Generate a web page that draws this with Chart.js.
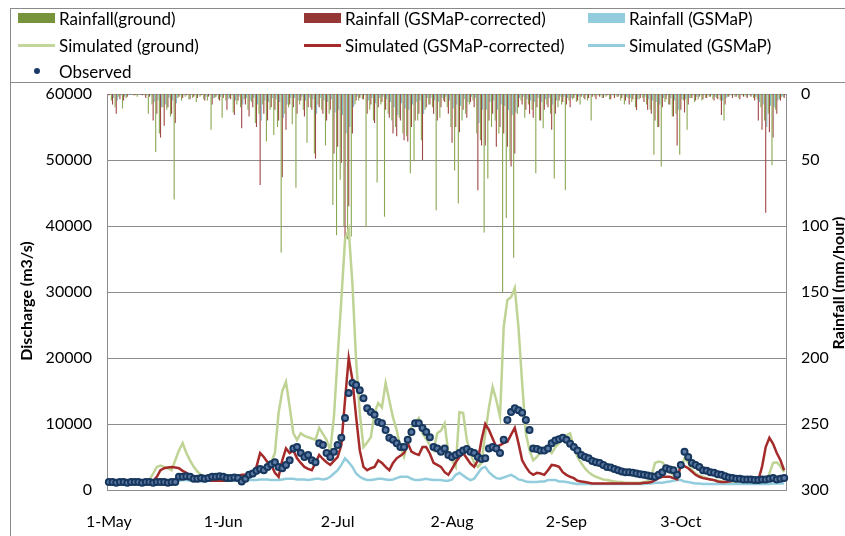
<!DOCTYPE html>
<html>
<head>
<meta charset="utf-8">
<script src="https://cdn.jsdelivr.net/npm/chart.js@4.4.1/dist/chart.umd.min.js"></script>
<style>
  html, body { margin: 0; padding: 0; background: #fff; }
  #wrap { position: relative; width: 845px; height: 536px; overflow: hidden; font-family: Lato, sans-serif; }
  #frame { position: absolute; left: 10px; top: 8px; width: 900px; height: 600px; border-left: 1px solid #8a8a8a; border-top: 1px solid #8a8a8a; }
  #legend { position: absolute; left: 10px; top: 8px; width: 900px; height: 74px; border-bottom: 1px solid #8a8a8a; }
  .item { position: absolute; display: flex; align-items: center; font-size: 17px; color: #000; white-space: nowrap; height: 20px; }
  .box { width: 37px; height: 10px; margin-right: 4px; }
  .ln { width: 37px; height: 3px; margin-right: 4px; }
  .dot { width: 37px; margin-right: 4px; display: flex; justify-content: center; }
  .dot span { width: 6px; height: 6px; border-radius: 50%; background: #1b3a66; }
  canvas { position: absolute; left: 0; top: 0; }
</style>
</head>
<body>
<div id="wrap">
  <canvas id="chart" width="845" height="536"></canvas>
  <div id="frame"></div>
  <div id="legend"></div>
  <div class="item" style="left:18px;top:8px"><div class="box" style="background:#77933c"></div>Rainfall(ground)</div>
  <div class="item" style="left:304px;top:8px"><div class="box" style="background:#953735"></div>Rainfall (GSMaP-corrected)</div>
  <div class="item" style="left:588px;top:8px"><div class="box" style="background:#93cddd"></div>Rainfall (GSMaP)</div>
  <div class="item" style="left:18px;top:35px"><div class="ln" style="background:#c3d69b"></div>Simulated (ground)</div>
  <div class="item" style="left:304px;top:35px"><div class="ln" style="background:#a52a2a"></div>Simulated (GSMaP-corrected)</div>
  <div class="item" style="left:588px;top:35px"><div class="ln" style="background:#93cddd"></div>Simulated (GSMaP)</div>
  <div class="item" style="left:18px;top:61px"><div class="dot"><span></span></div>Observed</div>
</div>
<script>
const tickLabels = ['1-May', '1-Jun', '2-Jul', '2-Aug', '2-Sep', '3-Oct'];
const monthNames = ['Jan', 'Feb', 'Mar', 'Apr', 'May', 'Jun', 'Jul', 'Aug', 'Sep', 'Oct', 'Nov', 'Dec'];

// discharge (m3/s), one value per day from 1 May
const observed = [
  1200,1200,1100,1200,1200,1100,1200,1200,1200,1100,
  1200,1200,1100,1200,1200,1200,1100,1200,1200,2000,
  2000,2100,2000,1700,1700,1800,1700,1800,2000,2000,
  2100,2000,1800,1800,1900,1800,1300,1700,2300,2500,
  2900,3200,3000,3500,3900,4200,3500,3300,3800,4500,
  6300,6500,5600,5000,5300,4500,4200,7100,6800,5600,
  5000,5800,6800,7900,10900,14700,16200,15900,15100,13900,
  12400,11800,11400,10300,10100,9100,7900,7600,7100,6500,
  6500,7600,8800,10100,10100,9400,8800,8000,6500,6300,
  5800,6300,5300,5000,5300,5600,6000,6200,5800,5600,
  5000,4700,4800,6300,6500,6300,5600,7600,10600,11800,
  12400,12100,11700,10600,9100,6300,6200,6000,6000,6300,
  7100,7500,7700,7900,7600,7000,6500,6000,5300,5000,
  4800,4400,4200,4100,3800,3500,3400,3200,3000,2800,
  2700,2700,2600,2500,2400,2300,2200,2100,2000,2300,
  2700,3300,3100,3000,2300,3800,5800,5000,4100,3800,
  3500,3000,2900,2700,2600,2400,2300,2100,1900,1800,
  1700,1700,1600,1600,1600,1500,1500,1600,1600,1700,
  1800,1600,1700,1800
];
const simGround = [
  900,1000,1000,1000,1000,1000,1000,1100,1100,1200,
  1300,1500,2500,3500,3700,3500,3300,3000,4500,6000,
  7100,5600,4500,3500,2800,2300,2100,2000,2100,2200,
  2300,2200,2000,1900,1800,1800,2000,2300,2600,2800,
  3000,3200,3400,3500,4200,5600,11700,15000,16400,12600,
  8600,7600,8600,8200,8000,7800,7600,9400,8500,7600,
  6000,11100,20200,28800,37900,39500,31300,19700,11700,6500,
  7200,8000,11700,13200,12500,16200,13600,11000,9100,6500,
  5000,7100,9500,10200,10900,8600,7700,6800,6000,8600,
  9000,10100,5600,4500,3500,11800,11700,7600,5500,4100,
  3500,4100,8600,12500,15600,13600,11100,24700,28800,29200,
  30600,24700,16200,8600,6000,4500,5000,5800,6000,6300,
  5600,6500,7100,7800,8300,8600,6500,5000,4100,3300,
  2700,2300,2000,1800,1600,1500,1400,1300,1200,1200,
  1100,1100,1100,1100,1100,1200,1300,2000,4100,4300,
  4200,3400,2700,2300,2000,3500,4800,4200,3000,2500,
  2200,2000,1800,1600,1500,1400,1300,1200,1200,1200,
  1200,1200,1100,1100,1100,1100,1100,1200,1300,2500,
  4100,4200,3600,2700
];
const simCorrected = [
  900,1000,1200,1300,1300,1300,1300,1300,1300,1300,
  1300,1300,1400,2000,3000,3300,3400,3500,3400,3300,
  2900,2600,2200,1800,1700,1600,1500,1500,1400,1400,
  1400,1400,1400,1600,1800,2100,2300,2300,2600,2600,
  3500,5600,5000,4200,3800,2600,2000,4500,6300,5600,
  6000,4800,4100,3500,3200,3000,4100,5300,4700,4200,
  3800,4400,5000,6800,13600,20000,16700,11100,6000,3500,
  3000,3300,3500,4500,4100,3500,3000,4100,4800,5200,
  5600,7100,5800,5500,5300,6500,6500,5500,4100,3800,
  3500,2700,2300,3200,4200,5000,5600,4800,4000,3500,
  4500,7600,10000,9100,7800,6500,6800,7100,7300,8400,
  9400,7100,4500,3500,2700,2300,2600,2500,2300,3000,
  3800,3700,3500,2700,2300,2000,1800,1400,1300,1200,
  1100,1000,1000,1000,1000,1000,1000,1000,1000,1000,
  1000,1000,1000,1000,1000,1100,1100,1200,1500,1800,
  2000,2000,2000,1800,1600,3800,3600,3300,2800,2300,
  2000,1800,1700,1600,1500,1300,1200,1200,1300,1400,
  1500,1500,1500,1500,1500,1500,1500,3500,6500,7900,
  7000,5600,4500,3000
];
const simGsmap = [
  800,800,900,900,900,1000,1000,1000,1000,1100,
  1100,1200,1200,1300,1300,1300,1400,1400,1400,1400,
  1500,1500,1400,1400,1400,1300,1300,1400,1400,1400,
  1400,1400,1400,1400,1400,1400,1400,1500,1500,1500,
  1500,1600,1600,1600,1500,1500,1500,1600,1700,1700,
  1700,1600,1600,1600,1500,1600,1700,1700,1600,1700,
  2000,2500,3000,3800,4800,4200,3500,2500,2000,1700,
  1500,1500,1600,1700,1700,1600,1500,1600,1800,2000,
  2000,2000,1700,1500,1500,1600,1700,1600,1500,1500,
  1500,1400,1400,1600,2300,2600,2200,1800,1500,1700,
  2500,3300,3500,2700,2200,1800,1700,1900,2100,2300,
  2000,1600,1500,1300,1200,1200,1200,1300,1300,1500,
  1500,1500,1300,1300,1200,1100,1000,900,900,900,
  900,900,900,900,900,900,900,900,900,900,
  900,900,900,900,900,900,1000,1000,1100,1100,
  1100,1200,1300,1400,1500,1500,1300,1200,1100,1000,
  1000,900,900,900,900,900,900,900,900,900,
  900,900,900,900,900,900,900,900,900,900,
  1000,1000,1000,1000
];

// rainfall (mm/hour)
const rainGround = [
  0,5,10,2,11,3,0,1,2,0,
  1,15,8,44,30,10,12,17,80,3,
  5,2,4,3,6,2,4,5,27,3,
  4,18,5,3,14,8,10,4,12,6,
  22,15,8,36,12,31,25,120,15,10,
  23,71,8,12,37,10,45,8,12,39,
  15,84,107,65,100,110,108,8,5,4,
  101,12,20,67,8,93,15,20,25,18,
  30,32,60,51,20,35,12,8,10,88,
  18,5,10,25,58,83,20,15,8,5,
  30,35,105,64,25,20,30,150,94,50,
  124,15,5,18,8,12,60,20,26,8,
  15,64,10,8,73,5,4,6,8,3,
  5,20,2,1,3,2,4,1,2,5,
  8,3,6,10,4,3,8,12,46,25,
  55,6,8,17,15,46,5,27,3,6,
  4,5,3,2,4,3,5,20,2,1,
  2,3,1,2,1,3,4,10,20,15,
  54,12,4,2
];
const rainCorrected = [
  1,8,15,4,5,2,0,1,0,1,
  3,2,20,15,33,24,10,15,22,2,
  3,1,4,2,3,1,5,2,8,2,
  5,3,12,4,16,5,26,8,17,10,
  25,69,15,20,10,12,20,63,27,8,
  10,15,5,17,10,12,49,10,15,20,
  12,45,40,52,110,85,30,5,3,4,
  15,8,22,10,6,12,18,30,32,20,
  35,36,25,20,15,50,10,8,15,20,
  10,6,15,37,25,29,12,18,6,10,
  73,39,39,20,15,40,25,30,40,55,
  45,10,8,12,15,18,10,20,12,10,
  27,15,5,6,8,10,3,5,2,4,
  3,2,4,2,3,1,4,3,2,3,
  5,8,4,12,3,6,12,15,20,25,
  10,4,8,17,39,12,14,8,3,5,
  2,4,3,2,5,4,16,8,2,3,
  2,4,2,3,2,5,20,27,90,29,
  33,15,5,3
];
const rainGsmap = [
  0,3,5,1,2,1,0,0,0,0,
  1,1,6,5,10,8,3,5,7,1,
  1,0,1,1,1,0,2,1,3,1,
  2,1,4,1,5,2,8,3,5,3,
  8,20,5,6,3,4,6,18,8,3,
  3,5,2,5,3,4,15,3,5,6,
  4,14,12,16,30,25,10,2,1,1,
  5,3,7,3,2,4,6,10,16,7,
  11,12,8,6,5,15,3,3,5,6,
  3,2,5,11,8,9,4,6,2,3,
  22,12,12,6,5,12,8,9,12,16,
  14,3,2,4,5,6,3,6,4,3,
  8,5,2,2,3,3,1,2,1,1,
  1,1,1,1,1,0,1,1,1,1,
  2,3,1,4,1,2,4,5,6,8,
  3,1,3,5,12,4,4,3,1,2,
  1,1,1,1,2,1,5,3,1,1,
  1,1,1,1,1,2,6,8,25,9,
  10,5,2,1
];

const dayLabels = [];
for (let i = 0; i < observed.length; i++) {
  const d = new Date(2000, 4, 1 + i);
  dayLabels.push(d.getDate() + '-' + monthNames[d.getMonth()]);
}

const tickFont = { family: 'Lato', size: 16 };

const axisTitles = {
  id: 'axisTitles',
  afterDraw(chart) {
    const c = chart.ctx;
    c.save();
    c.font = 'bold 16px Lato';
    c.fillStyle = '#000';
    c.textAlign = 'center';
    c.textBaseline = 'middle';
    c.translate(27, 301);
    c.rotate(-Math.PI / 2);
    c.fillText('Discharge (m3/s)', 0, 0);
    c.restore();
    c.save();
    c.font = 'bold 16px Lato';
    c.fillStyle = '#000';
    c.textAlign = 'center';
    c.textBaseline = 'middle';
    c.translate(839, 283);
    c.rotate(-Math.PI / 2);
    c.fillText('Rainfall (mm/hour)', 0, 0);
    c.restore();
  }
};

new Chart(document.getElementById('chart').getContext('2d'), {
  data: {
    labels: dayLabels,
    datasets: [
      { type: 'line', label: 'Observed', data: observed, yAxisID: 'y', showLine: false,
        pointRadius: 3, pointBorderWidth: 2, pointBackgroundColor: '#5c7aa3', pointBorderColor: '#17375e', order: 0 },
      { type: 'line', label: 'Simulated (GSMaP-corrected)', data: simCorrected, yAxisID: 'y',
        borderColor: '#a52a2a', borderWidth: 2.5, pointRadius: 0, tension: 0, order: 1 },
      { type: 'line', label: 'Simulated (GSMaP)', data: simGsmap, yAxisID: 'y',
        borderColor: '#93cddd', borderWidth: 2.5, pointRadius: 0, tension: 0, order: 2 },
      { type: 'line', label: 'Simulated (ground)', data: simGround, yAxisID: 'y',
        borderColor: '#bfd394', borderWidth: 2.5, pointRadius: 0, tension: 0, order: 3 },
      { type: 'bar', label: 'Rainfall(ground)', data: rainGround, yAxisID: 'y2',
        backgroundColor: '#8aa852', barPercentage: 1, categoryPercentage: 0.9, order: 10 },
      { type: 'bar', label: 'Rainfall (GSMaP-corrected)', data: rainCorrected, yAxisID: 'y2',
        backgroundColor: '#a04845', barPercentage: 1, categoryPercentage: 0.9, order: 10 },
      { type: 'bar', label: 'Rainfall (GSMaP)', data: rainGsmap, yAxisID: 'y2',
        backgroundColor: '#7fbccd', barPercentage: 1, categoryPercentage: 0.9, order: 10 }
    ]
  },
  options: {
    responsive: false,
    animation: false,
    layout: { padding: { top: 94, left: 0, right: 0, bottom: 0 } },
    plugins: { legend: { display: false }, tooltip: { enabled: false } },
    scales: {
      x: {
        type: 'category',
        offset: true,
        grid: { display: false, drawTicks: false },
        border: { display: false },
        ticks: {
          autoSkip: false, maxRotation: 0, padding: 22, color: '#000', font: tickFont,
          callback: function (v, i) { return tickLabels.includes(dayLabels[i]) ? dayLabels[i] : ''; }
        },
        afterFit(s) { s.height = 46; }
      },
      y: {
        position: 'left', min: 0, max: 60000,
        grid: { color: '#8c8c8c', drawTicks: false },
        border: { color: '#8c8c8c' },
        ticks: { stepSize: 10000, padding: 15, color: '#000', font: tickFont, callback: v => String(v) },
        afterFit(s) { s.width = 107; }
      },
      y2: {
        position: 'right', min: 0, max: 300, reverse: true,
        grid: { display: false, drawTicks: false },
        border: { color: '#8c8c8c' },
        ticks: { stepSize: 50, padding: 15, color: '#000', font: tickFont },
        afterFit(s) { s.width = 59; }
      }
    }
  },
  plugins: [axisTitles]
});
</script>
</body>
</html>
